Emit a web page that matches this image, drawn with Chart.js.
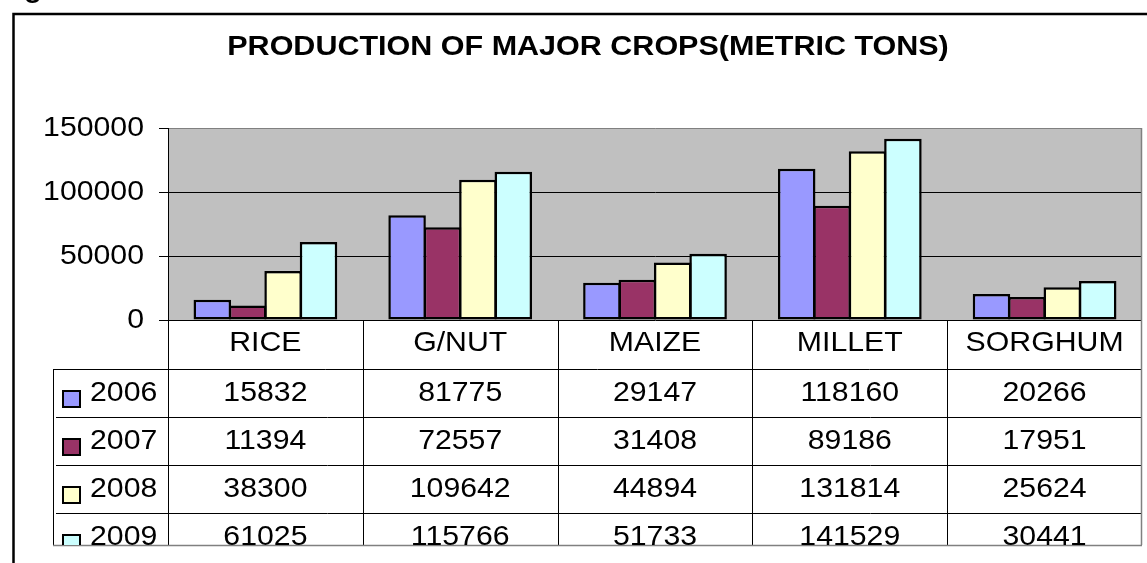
<!DOCTYPE html>
<html>
<head>
<meta charset="utf-8">
<script src="https://cdn.jsdelivr.net/npm/chart.js@4.4.1/dist/chart.umd.min.js"></script>
<style>
  html, body { margin: 0; padding: 0; background: #fff; }
  #c { display: block; }
</style>
</head>
<body>
<canvas id="c" width="1147" height="563"></canvas>
<script>
// ---- data ----
const categories = ['RICE', 'G/NUT', 'MAIZE', 'MILLET', 'SORGHUM'];
const years = ['2006', '2007', '2008', '2009'];
const values2006 = [15832, 81775, 29147, 118160, 20266];
const values2007 = [11394, 72557, 31408, 89186, 17951];
const values2008 = [38300, 109642, 44894, 131814, 25624];
const values2009 = [61025, 115766, 51733, 141529, 30441];
const yTicks = [0, 50000, 100000, 150000];
const chartTitle = 'PRODUCTION OF MAJOR CROPS(METRIC TONS)';

// ---- styles ----
const seriesColors = ['#9999FF', '#993366', '#FFFFCC', '#CCFFFF'];
const seriesValues = [values2006, values2007, values2008, values2009];
const FONT = '"Liberation Sans", Arial, sans-serif';
const FS = 27.5;
const SX_DEFAULT = 1.1; // horizontal text stretch of the reference

const canvas = document.getElementById('c');
const ctx = canvas.getContext('2d');
ctx._sx = SX_DEFAULT;
const origFillText = ctx.fillText.bind(ctx);
ctx.fillText = function (t, x, y, mw) {
  const sx = this._sx || 1;
  this.save();
  this.translate(x, y);
  this.scale(sx, 1);
  if (mw === undefined) origFillText(t, 0, 0);
  else origFillText(t, 0, 0, mw / sx);
  this.restore();
};

const decorPlugin = {
  id: 'decor',
  beforeDraw(chart) {
    const c = chart.ctx, a = chart.chartArea;
    c.save();
    c.fillStyle = '#fff';
    c.fillRect(0, 0, chart.width, chart.height);
    c.fillStyle = '#C0C0C0';
    c.fillRect(a.left, a.top, a.right - a.left, a.bottom - a.top);
    // outer frame
    c.strokeStyle = '#000';
    c.lineWidth = 2.5;
    c.strokeRect(13.5, 14, 1400, 800);
    // cut-off caption above the frame
    c.fillStyle = '#000';
    c.font = 'bold 27px ' + FONT;
    c.textAlign = 'center';
    c.textBaseline = 'alphabetic';
    c.fillText('g', 33, -3);
    // title
    c._sx = 1.13;
    c.textBaseline = 'middle';
    c.fillText(chartTitle, 588, 47.5);
    c._sx = SX_DEFAULT;
    c.restore();
  },
  afterDraw(chart) {
    const c = chart.ctx, a = chart.chartArea, x = chart.scales.x;
    const slot = (a.right - a.left) / categories.length;
    const hdrTop = a.bottom, hdrBot = 369, rowH = 48, tblBot = 545, legL = 53;
    c.save();
    c.strokeStyle = '#000';
    c.lineWidth = 1;
    c.beginPath();
    for (let i = 0; i < categories.length; i++) {
      const bx = Math.round(x.getPixelForValue(i) - slot / 2) + 0.5;
      c.moveTo(bx, hdrTop); c.lineTo(bx, tblBot);
    }
    c.moveTo(legL + 0.5, hdrBot); c.lineTo(legL + 0.5, tblBot);
    c.moveTo(legL, hdrBot + 0.5); c.lineTo(a.right, hdrBot + 0.5);
    for (let r = 1; r < years.length; r++) {
      const yy = hdrBot + r * rowH + 0.5;
      c.moveTo(legL + 3, yy); c.lineTo(a.right, yy);
    }
    c.stroke();
    c.strokeStyle = '#808080';
    c.lineWidth = 1.5;
    c.beginPath();
    c.moveTo(legL, tblBot + 0.5); c.lineTo(a.right, tblBot + 0.5);
    c.moveTo(a.right - 0.5, a.top); c.lineTo(a.right - 0.5, tblBot);
    c.stroke();

    // table text (clipped at the bottom like the reference)
    c.beginPath();
    c.rect(0, hdrTop, chart.width, tblBot - hdrTop);
    c.clip();
    c.font = FS + 'px ' + FONT;
    c.fillStyle = '#000';
    c.textBaseline = 'middle';
    c.textAlign = 'center';
    categories.forEach((cat, i) => c.fillText(cat, x.getPixelForValue(i), 343));
    years.forEach((yr, r) => {
      const top = hdrBot + r * rowH;
      const cy = top + rowH / 2 + 0.5;
      c.textAlign = 'center';
      c.fillStyle = '#000';
      seriesValues[r].forEach((v, i) => c.fillText(String(v), x.getPixelForValue(i), cy));
      // legend key
      c.fillStyle = seriesColors[r];
      c.fillRect(63, top + 22, 17, 16);
      c.strokeStyle = '#000';
      c.lineWidth = 2;
      c.strokeRect(63, top + 22, 17, 16);
      c.fillStyle = '#000';
      c.textAlign = 'left';
      c.fillText(yr, 90, cy);
    });
    c.restore();
  }
};

new Chart(ctx, {
  type: 'bar',
  data: {
    labels: categories,
    datasets: years.map((yr, i) => ({
      label: yr,
      data: seriesValues[i],
      backgroundColor: seriesColors[i],
      borderColor: '#000',
      borderWidth: 2.5,
      borderSkipped: false,
      categoryPercentage: 0.727,
      barPercentage: 1.06
    }))
  },
  options: {
    responsive: false,
    animation: false,
    devicePixelRatio: 1,
    layout: { padding: { top: 128, bottom: 243, left: 0, right: 5 } },
    plugins: {
      legend: { display: false },
      title: { display: false },
      tooltip: { enabled: false }
    },
    scales: {
      x: {
        display: false,
        afterFit(s) { s.height = 0; }
      },
      y: {
        min: 0,
        max: 150000,
        afterFit(s) { s.width = 168; },
        afterBuildTicks(s) { s.ticks = yTicks.map(v => ({ value: v })); },
        ticks: {
          color: '#000',
          padding: 15,
          font: { family: FONT, size: FS },
          callback: v => String(v)
        },
        grid: {
          color: c => (c.tick && c.tick.value === 150000) ? '#808080' : '#000',
          tickColor: '#000',
          tickLength: 9,
          lineWidth: 1
        },
        border: { color: '#000', width: 1 }
      }
    }
  },
  plugins: [decorPlugin]
});
</script>
</body>
</html>
